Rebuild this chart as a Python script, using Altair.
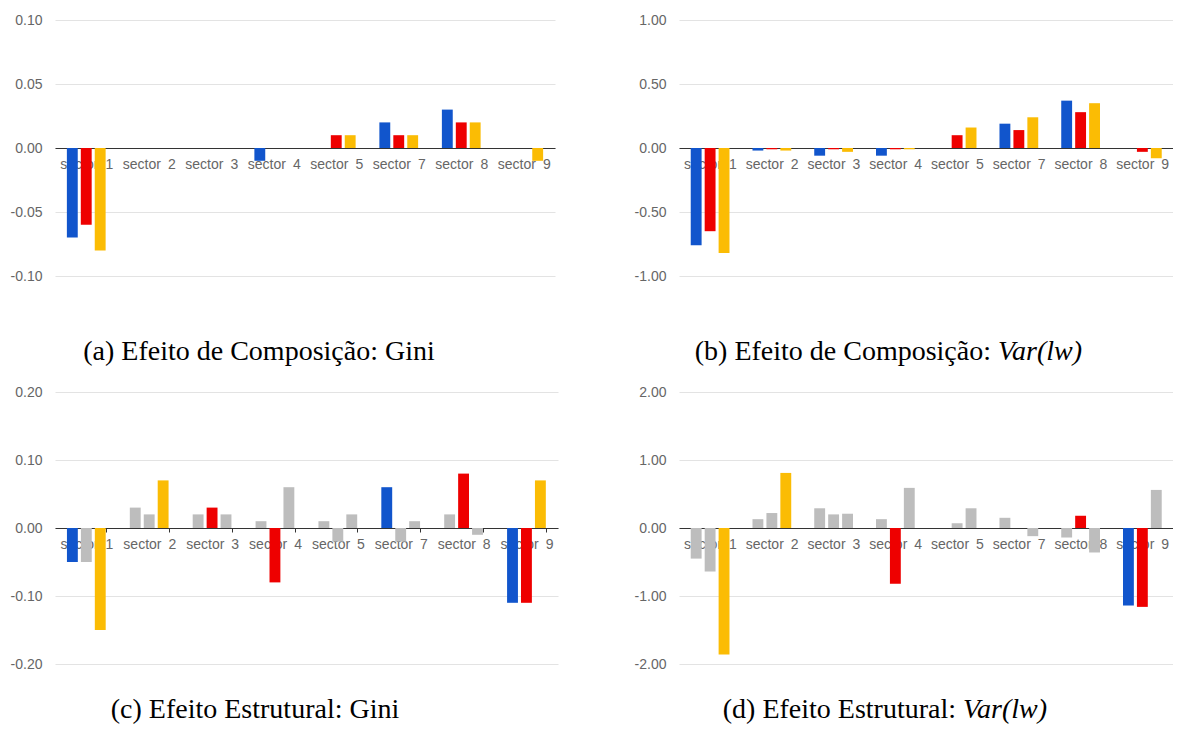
import altair as alt
import pandas as pd

# ---------------- data ----------------
sectors = ["sector 1", "sector 2", "sector 3", "sector 4",
           "sector 5", "sector 7", "sector 8", "sector 9"]
series = ["s1", "s2", "s3"]

# (a) Efeito de Composição: Gini
a_s1 = [-0.07, 0.00, 0.00, -0.01, 0.00, 0.02, 0.03, 0.00]
a_s2 = [-0.06, 0.00, 0.00, 0.00, 0.01, 0.01, 0.02, 0.00]
a_s3 = [-0.08, 0.00, 0.00, 0.00, 0.01, 0.01, 0.02, -0.01]

# (b) Efeito de Composição: Var(lw)
b_s1 = [-0.76, -0.02, -0.06, -0.06, 0.00, 0.19, 0.37, 0.00]
b_s2 = [-0.65, -0.01, -0.01, -0.01, 0.10, 0.14, 0.28, -0.03]
b_s3 = [-0.82, -0.02, -0.03, -0.01, 0.16, 0.24, 0.35, -0.08]

# (c) Efeito Estrutural: Gini
c_s1 = [-0.05, 0.03, 0.02, 0.01, 0.01, 0.06, 0.02, -0.11]
c_s2 = [-0.05, 0.02, 0.03, -0.08, -0.02, -0.02, 0.08, -0.11]
c_s3 = [-0.15, 0.07, 0.02, 0.06, 0.02, 0.01, -0.01, 0.07]
c_sig1 = [True, False, False, False, False, True, False, True]
c_sig2 = [False, False, True, True, False, False, True, True]
c_sig3 = [True, True, False, False, False, False, False, True]

# (d) Efeito Estrutural: Var(lw)
d_s1 = [-0.45, 0.13, 0.29, 0.13, 0.00, 0.15, -0.14, -1.14]
d_s2 = [-0.64, 0.22, 0.20, -0.82, 0.07, 0.00, 0.18, -1.16]
d_s3 = [-1.86, 0.81, 0.21, 0.59, 0.29, -0.12, -0.36, 0.56]
d_sig1 = [False, False, False, False, False, False, False, True]
d_sig2 = [False, False, False, True, False, False, True, True]
d_sig3 = [True, True, False, False, False, False, False, False]

a_ticks = [-0.10, -0.05, 0.00, 0.05, 0.10]
b_ticks = [-1.0, -0.5, 0.0, 0.5, 1.0]
c_ticks = [-0.20, -0.10, 0.00, 0.10, 0.20]
d_ticks = [-2.0, -1.0, 0.0, 1.0, 2.0]

# ---------------- styling ----------------
BLUE, RED, YELLOW, GRAY = "#1155cc", "#ee0000", "#fbbc04", "#bdbdbd"
LIGHT_BLUE = "#4285f4"
AXIS_FONT = "Liberation Sans"
AXIS_SIZE = 14
CAP_FONT = "Liberation Serif"
CAP_SIZE = 28


def build_df(s1, s2, s3, sig=None):
    rows = []
    for i, sec in enumerate(sectors):
        for k, vals in enumerate((s1, s2, s3)):
            ok = True if sig is None else sig[k][i]
            rows.append({"sector": sec, "series": series[k], "value": vals[i],
                         "key": series[k] if ok else "ns"})
    return pd.DataFrame(rows)


def caption(parts, y):
    out = []
    for text, x, align, style in parts:
        out.append(
            alt.Chart(pd.DataFrame({"t": [text]}))
            .mark_text(font=CAP_FONT, fontSize=CAP_SIZE, fontStyle=style,
                       align=align, baseline="alphabetic", color="#000")
            .encode(text="t:N", x=alt.value(x), y=alt.value(y))
        )
    return out


def panel(df, palette, ticks, w, h, xticks, cap_parts, cap_y):
    dom = [ticks[0], ticks[-1]]
    x_axis = alt.Axis(
        title=None, orient="bottom", offset=-h / 2, labelAngle=0,
        labelOverlap=False, labelPadding=5 if xticks else 9,
        labelExpr="replace(datum.label, ' ', '\u2002')",
        domainColor="#333", domainWidth=1,
        ticks=xticks, tickBand="extent", tickColor="#333", tickSize=4,
        grid=False, labelColor="#666", labelFont=AXIS_FONT, labelFontSize=AXIS_SIZE,
    )
    y_axis = alt.Axis(
        title=None, values=ticks,
        labelExpr="(datum.value < 0 ? '-' : '') + format(abs(datum.value), '.2f')",
        domain=False, ticks=False, grid=True, gridColor="#e3e3e3",
        labelColor="#666", labelFont=AXIS_FONT, labelFontSize=AXIS_SIZE, labelPadding=13,
    )
    bars = alt.Chart(df).mark_bar().encode(
        x=alt.X("sector:N", sort=sectors, axis=x_axis,
                scale=alt.Scale(paddingInner=0.38, paddingOuter=0.19)),
        xOffset=alt.XOffset("series:N", scale=alt.Scale(paddingInner=0.22, paddingOuter=0)),
        y=alt.Y("value:Q", axis=y_axis, scale=alt.Scale(domain=dom, nice=False)),
        color=alt.Color("key:N", legend=None,
                        scale=alt.Scale(domain=["s1", "s2", "s3", "ns"], range=palette)),
    )
    return alt.layer(bars, *caption(cap_parts, cap_y)).properties(width=w, height=h)


pal = [BLUE, RED, YELLOW, GRAY]
pal_d = [LIGHT_BLUE, RED, YELLOW, GRAY]

pa = panel(build_df(a_s1, a_s2, a_s3), pal, a_ticks, 500, 256, False,
           [("(a) Efeito de Composição: Gini", 204, "center", "normal")], 340)
pb = panel(build_df(b_s1, b_s2, b_s3), pal, b_ticks, 494, 256, False,
           [("(b) Efeito de Composição:", 312, "right", "normal"),
            ("Var(lw)", 319, "left", "italic")], 340)
pc = panel(build_df(c_s1, c_s2, c_s3, (c_sig1, c_sig2, c_sig3)), pal, c_ticks, 503, 272, True,
           [("(c) Efeito Estrutural: Gini", 200, "center", "normal")], 326)
pd_ = panel(build_df(d_s1, d_s2, d_s3, (d_sig1, d_sig2, d_sig3)), pal_d, d_ticks, 494, 272, False,
            [("(d) Efeito Estrutural:", 277, "right", "normal"),
             ("Var(lw)", 284, "left", "italic")], 326)

chart = (
    alt.concat(pa, pb, pc, pd_, columns=2, spacing={"row": 116, "column": 121}, bounds="flush")
    .configure_view(stroke=None)
    .properties(padding={"left": 2, "top": 5, "right": 0, "bottom": 0}, background="white")
)

chart.save("out.html", embed_options={"renderer": "svg", "actions": False})
